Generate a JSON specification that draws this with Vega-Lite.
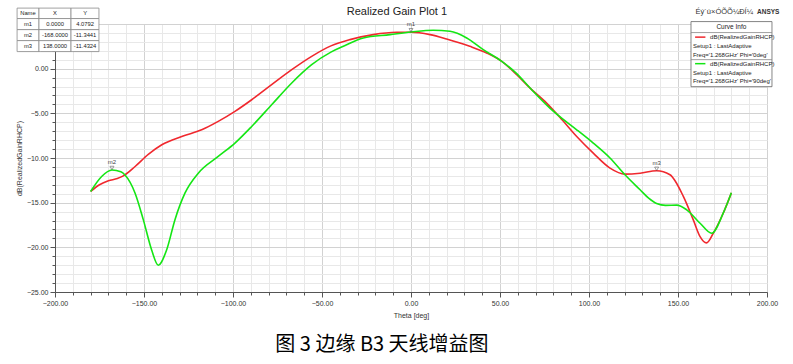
{
  "$schema": "https://vega.github.io/schema/vega-lite/v6.json",
  "width": 712,
  "height": 268,
  "autosize": {"type": "none"},
  "padding": {"left": 55, "top": 24, "right": 26, "bottom": 72},
  "background": "white",
  "config": {
    "view": {"stroke": "#666666", "strokeWidth": 1},
    "font": "Liberation Sans",
    "text": {"font": "Liberation Sans"},
    "axis": {
      "labelFontSize": 7,
      "labelColor": "#333333",
      "labelFont": "Liberation Sans",
      "labelOverlap": false,
      "labelFlush": false,
      "labelPadding": 2,
      "titleFontSize": 7,
      "titleFontWeight": "normal",
      "titleFont": "Liberation Sans",
      "titleColor": "#333333",
      "domainColor": "#555555",
      "tickColor": "#555555",
      "grid": true
    },
    "axisX": {
      "tickCount": 40,
      "labelExpr": "datum.value % 50 === 0 ? format(datum.value, '.2f') : ''",
      "titlePadding": 5,
      "tickSize": {"condition": {"test": "datum.value % 50 === 0", "value": 5}, "value": 3},
      "gridColor": {"condition": {"test": "datum.value % 50 === 0", "value": "#d2d2d2"}, "value": "#e8e8e8"}
    },
    "axisY": {
      "tickCount": 30,
      "labelExpr": "(datum.value % 5 === 0 && datum.value < 5) ? format(datum.value, '.2f') : ''",
      "titlePadding": 4,
      "tickSize": {"condition": {"test": "datum.value % 5 === 0", "value": 5}, "value": 3},
      "gridColor": {"condition": {"test": "datum.value % 5 === 0", "value": "#d2d2d2"}, "value": "#e8e8e8"}
    }
  },
  "datasets": {
    "curves": [
      {"theta": -180, "gain": -13.75, "series": "Phi=0deg"},
      {"theta": -175, "gain": -13.0, "series": "Phi=0deg"},
      {"theta": -170, "gain": -12.55, "series": "Phi=0deg"},
      {"theta": -165, "gain": -12.3, "series": "Phi=0deg"},
      {"theta": -161.6, "gain": -12.0, "series": "Phi=0deg"},
      {"theta": -155, "gain": -10.95, "series": "Phi=0deg"},
      {"theta": -147.6, "gain": -9.6, "series": "Phi=0deg"},
      {"theta": -140, "gain": -8.52, "series": "Phi=0deg"},
      {"theta": -128.8, "gain": -7.59, "series": "Phi=0deg"},
      {"theta": -117.6, "gain": -6.84, "series": "Phi=0deg"},
      {"theta": -108.3, "gain": -5.9, "series": "Phi=0deg"},
      {"theta": -98.9, "gain": -4.78, "series": "Phi=0deg"},
      {"theta": -89.5, "gain": -3.48, "series": "Phi=0deg"},
      {"theta": -78.3, "gain": -1.79, "series": "Phi=0deg"},
      {"theta": -67, "gain": -0.11, "series": "Phi=0deg"},
      {"theta": -55.8, "gain": 1.38, "series": "Phi=0deg"},
      {"theta": -45, "gain": 2.55, "series": "Phi=0deg"},
      {"theta": -34.3, "gain": 3.25, "series": "Phi=0deg"},
      {"theta": -21.2, "gain": 3.81, "series": "Phi=0deg"},
      {"theta": -8, "gain": 4.07, "series": "Phi=0deg"},
      {"theta": 0, "gain": 4.08, "series": "Phi=0deg"},
      {"theta": 10.7, "gain": 3.81, "series": "Phi=0deg"},
      {"theta": 20, "gain": 3.32, "series": "Phi=0deg"},
      {"theta": 33, "gain": 2.5, "series": "Phi=0deg"},
      {"theta": 42.5, "gain": 1.76, "series": "Phi=0deg"},
      {"theta": 51, "gain": 0.82, "series": "Phi=0deg"},
      {"theta": 59.4, "gain": -0.67, "series": "Phi=0deg"},
      {"theta": 66.9, "gain": -2.17, "series": "Phi=0deg"},
      {"theta": 76.2, "gain": -3.85, "series": "Phi=0deg"},
      {"theta": 85, "gain": -5.75, "series": "Phi=0deg"},
      {"theta": 93.1, "gain": -7.59, "series": "Phi=0deg"},
      {"theta": 102.4, "gain": -9.45, "series": "Phi=0deg"},
      {"theta": 111.8, "gain": -11.13, "series": "Phi=0deg"},
      {"theta": 120.2, "gain": -11.8, "series": "Phi=0deg"},
      {"theta": 128.7, "gain": -11.7, "series": "Phi=0deg"},
      {"theta": 138, "gain": -11.43, "series": "Phi=0deg"},
      {"theta": 145.5, "gain": -11.88, "series": "Phi=0deg"},
      {"theta": 153, "gain": -14.3, "series": "Phi=0deg"},
      {"theta": 158.6, "gain": -16.93, "series": "Phi=0deg"},
      {"theta": 162.4, "gain": -18.8, "series": "Phi=0deg"},
      {"theta": 166, "gain": -19.5, "series": "Phi=0deg"},
      {"theta": 169.8, "gain": -18.43, "series": "Phi=0deg"},
      {"theta": 175.4, "gain": -16.18, "series": "Phi=0deg"},
      {"theta": 180, "gain": -13.9, "series": "Phi=0deg"},
      {"theta": -180, "gain": -13.75, "series": "Phi=90deg"},
      {"theta": -173.8, "gain": -12.07, "series": "Phi=90deg"},
      {"theta": -168, "gain": -11.34, "series": "Phi=90deg"},
      {"theta": -163, "gain": -11.55, "series": "Phi=90deg"},
      {"theta": -160.7, "gain": -11.9, "series": "Phi=90deg"},
      {"theta": -155, "gain": -13.94, "series": "Phi=90deg"},
      {"theta": -150.4, "gain": -16.9, "series": "Phi=90deg"},
      {"theta": -145.7, "gain": -20.3, "series": "Phi=90deg"},
      {"theta": -142, "gain": -22.0, "series": "Phi=90deg"},
      {"theta": -137.3, "gain": -20.3, "series": "Phi=90deg"},
      {"theta": -132.6, "gain": -16.9, "series": "Phi=90deg"},
      {"theta": -127, "gain": -13.94, "series": "Phi=90deg"},
      {"theta": -119.5, "gain": -11.7, "series": "Phi=90deg"},
      {"theta": -108.3, "gain": -9.83, "series": "Phi=90deg"},
      {"theta": -98.9, "gain": -8.33, "series": "Phi=90deg"},
      {"theta": -89.5, "gain": -6.47, "series": "Phi=90deg"},
      {"theta": -78.3, "gain": -4.04, "series": "Phi=90deg"},
      {"theta": -67, "gain": -1.6, "series": "Phi=90deg"},
      {"theta": -55.8, "gain": 0.45, "series": "Phi=90deg"},
      {"theta": -45, "gain": 1.85, "series": "Phi=90deg"},
      {"theta": -38, "gain": 2.5, "series": "Phi=90deg"},
      {"theta": -26.8, "gain": 3.44, "series": "Phi=90deg"},
      {"theta": -11.8, "gain": 3.81, "series": "Phi=90deg"},
      {"theta": 0, "gain": 4.1, "series": "Phi=90deg"},
      {"theta": 12.5, "gain": 4.3, "series": "Phi=90deg"},
      {"theta": 21.9, "gain": 4.18, "series": "Phi=90deg"},
      {"theta": 31.3, "gain": 3.44, "series": "Phi=90deg"},
      {"theta": 40.6, "gain": 2.13, "series": "Phi=90deg"},
      {"theta": 51, "gain": 0.82, "series": "Phi=90deg"},
      {"theta": 59.4, "gain": -0.56, "series": "Phi=90deg"},
      {"theta": 66.9, "gain": -2.17, "series": "Phi=90deg"},
      {"theta": 78, "gain": -4.41, "series": "Phi=90deg"},
      {"theta": 85, "gain": -5.6, "series": "Phi=90deg"},
      {"theta": 93.1, "gain": -6.84, "series": "Phi=90deg"},
      {"theta": 102.4, "gain": -8.33, "series": "Phi=90deg"},
      {"theta": 111.8, "gain": -10.0, "series": "Phi=90deg"},
      {"theta": 120.2, "gain": -11.88, "series": "Phi=90deg"},
      {"theta": 128.7, "gain": -13.56, "series": "Phi=90deg"},
      {"theta": 133.5, "gain": -14.5, "series": "Phi=90deg"},
      {"theta": 138, "gain": -15.1, "series": "Phi=90deg"},
      {"theta": 143, "gain": -15.3, "series": "Phi=90deg"},
      {"theta": 149.3, "gain": -15.28, "series": "Phi=90deg"},
      {"theta": 154.9, "gain": -15.8, "series": "Phi=90deg"},
      {"theta": 162.4, "gain": -17.3, "series": "Phi=90deg"},
      {"theta": 168.9, "gain": -18.43, "series": "Phi=90deg"},
      {"theta": 175.4, "gain": -16.18, "series": "Phi=90deg"},
      {"theta": 180, "gain": -13.9, "series": "Phi=90deg"}
    ],
    "markers": [
      {"name": "m1", "theta": 0, "gain": 4.0792},
      {"name": "m2", "theta": -168, "gain": -11.3441},
      {"name": "m3", "theta": 138, "gain": -11.4324}
    ],
    "tablecells": [
      {"theta": -221.3, "theta2": -209.0, "gain": 6.78, "gain2": 5.61},
      {"theta": -209.0, "theta2": -191.0, "gain": 6.78, "gain2": 5.61},
      {"theta": -191.0, "theta2": -175.3, "gain": 6.78, "gain2": 5.61},
      {"theta": -221.3, "theta2": -209.0, "gain": 5.61, "gain2": 4.37},
      {"theta": -209.0, "theta2": -191.0, "gain": 5.61, "gain2": 4.37},
      {"theta": -191.0, "theta2": -175.3, "gain": 5.61, "gain2": 4.37},
      {"theta": -221.3, "theta2": -209.0, "gain": 4.37, "gain2": 3.14},
      {"theta": -209.0, "theta2": -191.0, "gain": 4.37, "gain2": 3.14},
      {"theta": -191.0, "theta2": -175.3, "gain": 4.37, "gain2": 3.14},
      {"theta": -221.3, "theta2": -209.0, "gain": 3.14, "gain2": 1.91},
      {"theta": -209.0, "theta2": -191.0, "gain": 3.14, "gain2": 1.91},
      {"theta": -191.0, "theta2": -175.3, "gain": 3.14, "gain2": 1.91}
    ],
    "tabletext": [
      {"theta": -215.2, "gain": 6.2, "label": "Name"},
      {"theta": -200.0, "gain": 6.2, "label": "X"},
      {"theta": -183.1, "gain": 6.2, "label": "Y"},
      {"theta": -215.2, "gain": 4.99, "label": "m1"},
      {"theta": -200.0, "gain": 4.99, "label": "0.0000"},
      {"theta": -183.1, "gain": 4.99, "label": "4.0792"},
      {"theta": -215.2, "gain": 3.76, "label": "m2"},
      {"theta": -200.0, "gain": 3.76, "label": "-168.0000"},
      {"theta": -183.1, "gain": 3.76, "label": "-11.3441"},
      {"theta": -215.2, "gain": 2.53, "label": "m3"},
      {"theta": -200.0, "gain": 2.53, "label": "138.0000"},
      {"theta": -183.1, "gain": 2.53, "label": "-11.4324"}
    ],
    "legendbox": [
      {"theta": 157.3, "theta2": 202.8, "gain": 5.27, "gain2": -2.02}
    ],
    "legendseps": [
      {"theta": 157.3, "theta2": 202.8, "gain": 4.04},
      {"theta": 157.3, "theta2": 202.8, "gain": 1.01}
    ],
    "legendlines": [
      {"theta": 159.6, "theta2": 165.4, "gain": 3.53, "series": "Phi=0deg"},
      {"theta": 159.6, "theta2": 165.4, "gain": 0.56, "series": "Phi=90deg"}
    ],
    "legendtext": [
      {"theta": 168.0, "gain": 3.53, "label": "dB(RealizedGainRHCP)"},
      {"theta": 158.4, "gain": 2.5, "label": "Setup1 : LastAdaptive"},
      {"theta": 158.4, "gain": 1.55, "label": "Freq='1.268GHz' Phi='0deg'"},
      {"theta": 168.0, "gain": 0.56, "label": "dB(RealizedGainRHCP)"},
      {"theta": 158.4, "gain": -0.45, "label": "Setup1 : LastAdaptive"},
      {"theta": 158.4, "gain": -1.4, "label": "Freq='1.268GHz' Phi='90deg'"}
    ],
    "legendtitle": [
      {"theta": 180.0, "gain": 4.62, "label": "Curve Info"}
    ],
    "plottitle": [
      {"theta": -7.9, "gain": 6.39, "label": "Realized Gain Plot 1"}
    ],
    "brand": [
      {"theta": 159.9, "gain": 6.3, "label": "Éý´ú×ÓÕÕ¼ÐÍ¼"}
    ],
    "ansys": [
      {"theta": 194.4, "gain": 6.3, "label": "ANSYS"}
    ],
    "caption": [
      {"theta": -16.3, "gain": -30.9, "label": "图 3 边缘 B3 天线增益图"}
    ]
  },
  "layer": [
    {
      "data": {"name": "curves"},
      "mark": {"type": "line", "interpolate": "monotone", "strokeWidth": 1.6},
      "encoding": {
        "x": {
          "field": "theta",
          "type": "quantitative",
          "scale": {"domain": [-200, 200], "nice": false},
          "axis": {"title": "Theta [deg]"}
        },
        "y": {
          "field": "gain",
          "type": "quantitative",
          "scale": {"domain": [-25, 5], "nice": false},
          "axis": {"title": "dB(RealizedGainRHCP)"}
        },
        "color": {
          "field": "series",
          "type": "nominal",
          "scale": {"domain": ["Phi=0deg", "Phi=90deg"], "range": ["#f0282e", "#14e614"]},
          "legend": null
        }
      }
    },
    {
      "data": {"name": "markers"},
      "mark": {"type": "point", "shape": "triangle-down", "size": 16, "filled": false, "stroke": "#555555", "strokeWidth": 0.8, "yOffset": -2},
      "encoding": {
        "x": {"field": "theta", "type": "quantitative"},
        "y": {"field": "gain", "type": "quantitative"}
      }
    },
    {
      "data": {"name": "markers"},
      "mark": {"type": "text", "fontSize": 6, "color": "#444444", "dy": -8, "font": "Liberation Sans"},
      "encoding": {
        "x": {"field": "theta", "type": "quantitative"},
        "y": {"field": "gain", "type": "quantitative"},
        "text": {"field": "name"}
      }
    },
    {
      "data": {"name": "tablecells"},
      "mark": {"type": "rect", "fill": "#9a9a9a", "xOffset": 2, "yOffset": 2},
      "encoding": {
        "x": {"field": "theta", "type": "quantitative"},
        "x2": {"field": "theta2"},
        "y": {"field": "gain", "type": "quantitative"},
        "y2": {"field": "gain2"}
      }
    },
    {
      "data": {"name": "tablecells"},
      "mark": {"type": "rect", "fill": "white", "stroke": "#8a8a8a", "strokeWidth": 0.8},
      "encoding": {
        "x": {"field": "theta", "type": "quantitative"},
        "x2": {"field": "theta2"},
        "y": {"field": "gain", "type": "quantitative"},
        "y2": {"field": "gain2"}
      }
    },
    {
      "data": {"name": "tabletext"},
      "mark": {"type": "text", "fontSize": 5.8, "color": "#222222", "align": "center", "baseline": "middle", "font": "Liberation Sans"},
      "encoding": {
        "x": {"field": "theta", "type": "quantitative"},
        "y": {"field": "gain", "type": "quantitative"},
        "text": {"field": "label"}
      }
    },
    {
      "data": {"name": "legendbox"},
      "mark": {"type": "rect", "fill": "#9a9a9a", "xOffset": 2, "yOffset": 2},
      "encoding": {
        "x": {"field": "theta", "type": "quantitative"},
        "x2": {"field": "theta2"},
        "y": {"field": "gain", "type": "quantitative"},
        "y2": {"field": "gain2"}
      }
    },
    {
      "data": {"name": "legendbox"},
      "mark": {"type": "rect", "fill": "white", "stroke": "#666666", "strokeWidth": 0.8},
      "encoding": {
        "x": {"field": "theta", "type": "quantitative"},
        "x2": {"field": "theta2"},
        "y": {"field": "gain", "type": "quantitative"},
        "y2": {"field": "gain2"}
      }
    },
    {
      "data": {"name": "legendseps"},
      "mark": {"type": "rule", "color": "#888888", "strokeWidth": 0.8},
      "encoding": {
        "x": {"field": "theta", "type": "quantitative"},
        "x2": {"field": "theta2"},
        "y": {"field": "gain", "type": "quantitative"}
      }
    },
    {
      "data": {"name": "legendlines"},
      "mark": {"type": "rule", "strokeWidth": 1.5},
      "encoding": {
        "x": {"field": "theta", "type": "quantitative"},
        "x2": {"field": "theta2"},
        "y": {"field": "gain", "type": "quantitative"},
        "color": {"field": "series", "type": "nominal", "legend": null}
      }
    },
    {
      "data": {"name": "legendtext"},
      "mark": {"type": "text", "fontSize": 6, "color": "#222222", "align": "left", "baseline": "middle", "font": "Liberation Sans"},
      "encoding": {
        "x": {"field": "theta", "type": "quantitative"},
        "y": {"field": "gain", "type": "quantitative"},
        "text": {"field": "label"}
      }
    },
    {
      "data": {"name": "legendtitle"},
      "mark": {"type": "text", "fontSize": 6.5, "color": "#222222", "align": "center", "baseline": "middle", "font": "Liberation Sans"},
      "encoding": {
        "x": {"field": "theta", "type": "quantitative"},
        "y": {"field": "gain", "type": "quantitative"},
        "text": {"field": "label"}
      }
    },
    {
      "data": {"name": "plottitle"},
      "mark": {"type": "text", "fontSize": 11, "color": "#222222", "align": "center", "baseline": "middle", "font": "Liberation Sans"},
      "encoding": {
        "x": {"field": "theta", "type": "quantitative"},
        "y": {"field": "gain", "type": "quantitative"},
        "text": {"field": "label"}
      }
    },
    {
      "data": {"name": "brand"},
      "mark": {"type": "text", "fontSize": 7.5, "color": "#333333", "align": "left", "baseline": "middle", "font": "Liberation Sans"},
      "encoding": {
        "x": {"field": "theta", "type": "quantitative"},
        "y": {"field": "gain", "type": "quantitative"},
        "text": {"field": "label"}
      }
    },
    {
      "data": {"name": "ansys"},
      "mark": {"type": "text", "fontSize": 6.5, "fontWeight": "bold", "color": "#333333", "align": "left", "baseline": "middle", "font": "Liberation Sans"},
      "encoding": {
        "x": {"field": "theta", "type": "quantitative"},
        "y": {"field": "gain", "type": "quantitative"},
        "text": {"field": "label"}
      }
    },
    {
      "data": {"name": "caption"},
      "mark": {"type": "text", "fontSize": 20, "color": "#000000", "align": "center", "baseline": "middle", "font": "Noto Sans CJK SC"},
      "encoding": {
        "x": {"field": "theta", "type": "quantitative"},
        "y": {"field": "gain", "type": "quantitative"},
        "text": {"field": "label"}
      }
    }
  ]
}
